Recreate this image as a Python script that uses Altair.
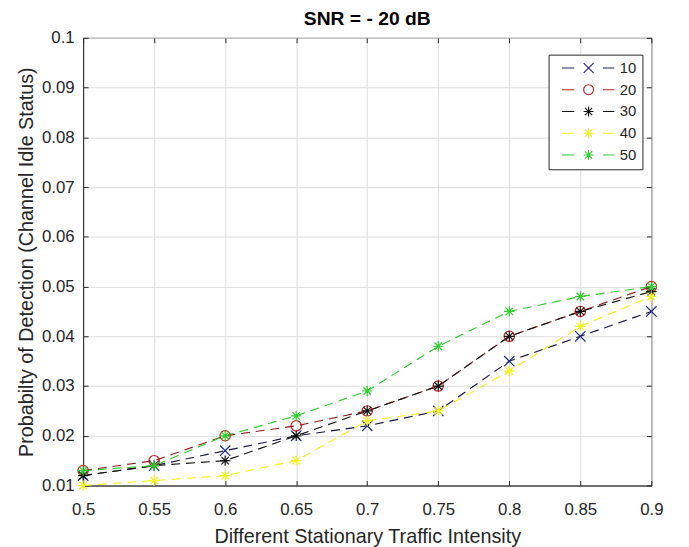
import altair as alt
import pandas as pd

# ---- data ----
traffic = [0.5, 0.55, 0.6, 0.65, 0.7, 0.75, 0.8, 0.85, 0.9]
series_names = ["10", "20", "30", "40", "50"]
s10 = [0.012, 0.014, 0.017, 0.020, 0.022, 0.025, 0.035, 0.040, 0.045]
s20 = [0.013, 0.015, 0.020, 0.022, 0.025, 0.030, 0.040, 0.045, 0.050]
s30 = [0.012, 0.014, 0.015, 0.020, 0.025, 0.030, 0.040, 0.045, 0.049]
s40 = [0.010, 0.011, 0.012, 0.015, 0.023, 0.025, 0.033, 0.042, 0.048]
s50 = [0.013, 0.014, 0.020, 0.024, 0.029, 0.038, 0.045, 0.048, 0.050]
x_ticks = [0.5, 0.55, 0.6, 0.65, 0.7, 0.75, 0.8, 0.85, 0.9]
y_ticks = [0.01, 0.02, 0.03, 0.04, 0.05, 0.06, 0.07, 0.08, 0.09, 0.1]

# ---- styles ----
line_colors = ["#14143c", "#8c1c1c", "#111111", "#f2f21e", "#2ecc2e"]
marker_colors = ["#1c2a80", "#c0221e", "#111111", "#f2f21e", "#2ecc2e"]
legend_colors = ["#1a2468", "#a81f1e", "#111111", "#f2f21e", "#2ecc2e"]
X_M = "M-1,-1L1,1M-1,1L1,-1"
O_M = "M1,0A1,1,0,1,1,-1,0A1,1,0,1,1,1,0"
A_M = "M-1,0L1,0M0,-1L0,1M-0.72,-0.72L0.72,0.72M-0.72,0.72L0.72,-0.72"
marker_paths = [X_M, O_M, A_M, A_M, A_M]
DASH = "M-5.4,0L-2.9,0M2.9,0L5.2,0"
legend_paths = [DASH + m for m in marker_paths]

all_series = [s10, s20, s30, s40, s50]
rows = []
for name, vals in zip(series_names, all_series):
    for xv, yv in zip(traffic, vals):
        rows.append({"x": xv, "y": yv, "series": name})
df = pd.DataFrame(rows)

FONT = "Liberation Sans"
TXT = "#262626"

x_scale = alt.Scale(domain=[0.5, 0.9], nice=False, zero=False)
y_scale = alt.Scale(domain=[0.01, 0.1], nice=False, zero=False)

base = alt.Chart(df)

lines = base.mark_line(strokeWidth=1.15, strokeDash=[9, 6]).encode(
    x=alt.X("x:Q", scale=x_scale,
            axis=alt.Axis(values=x_ticks, format=".2~f", title="Different Stationary Traffic Intensity",
                          orient="bottom", ticks=False, labelPadding=16, titlePadding=26,
                          titleBaseline="alphabetic", grid=True, labelFlush=False)),
    y=alt.Y("y:Q", scale=y_scale,
            axis=alt.Axis(values=y_ticks, format=".2~f", title="Probabilty of Detection (Channel Idle Status)",
                          orient="left", ticks=False, labelPadding=9, titlePadding=9,
                          titleBaseline="alphabetic", grid=True, labelFlush=False)),
    color=alt.Color("series:N", scale=alt.Scale(domain=series_names, range=line_colors), legend=None),
)

points = base.mark_point(filled=False, size=110, strokeWidth=1.2, opacity=1).encode(
    x=alt.X("x:Q", scale=x_scale, axis=None),
    y=alt.Y("y:Q", scale=y_scale, axis=None),
    color=alt.Color("series:N", scale=alt.Scale(domain=series_names, range=marker_colors), legend=None),
    shape=alt.Shape("series:N", scale=alt.Scale(domain=series_names, range=marker_paths), legend=None),
)

legend_layer = base.mark_point(filled=False, size=100, strokeWidth=1.1, opacity=1).encode(
    x=alt.X("x:Q", scale=x_scale, axis=None),
    y=alt.Y("y:Q", scale=y_scale, axis=None),
    color=alt.Color("series:N", scale=alt.Scale(domain=series_names, range=legend_colors),
                    legend=alt.Legend(orient="none", legendX=471, legendY=17, title=None)),
    shape=alt.Shape("series:N", scale=alt.Scale(domain=series_names, range=legend_paths),
                    legend=alt.Legend(orient="none", legendX=471, legendY=17, title=None)),
).transform_filter("false")


def tick_axis(orient, values):
    return alt.Axis(orient=orient, values=values, offset=-5, tickSize=5, ticks=True,
                    tickColor=TXT, labels=False, domain=False, grid=False, title=None)


ticks_bl = base.mark_point(opacity=0).encode(
    x=alt.X("x:Q", scale=x_scale, axis=tick_axis("bottom", x_ticks)),
    y=alt.Y("y:Q", scale=y_scale, axis=tick_axis("left", y_ticks)),
).transform_filter("false")

ticks_tr = base.mark_point(opacity=0).encode(
    x=alt.X("x:Q", scale=x_scale, axis=tick_axis("top", x_ticks)),
    y=alt.Y("y:Q", scale=y_scale, axis=tick_axis("right", y_ticks)),
).transform_filter("false")

chart = alt.layer(lines, points, legend_layer, ticks_bl, ticks_tr).resolve_scale(
    color="independent", shape="independent"
).resolve_axis(
    x="independent", y="independent"
).properties(
    width=575, height=453,
    autosize=alt.AutoSizeParams(type="none"),
    padding={"left": 76, "top": 27, "right": 30, "bottom": 59},
    title=alt.TitleParams("SNR = - 20 dB", font=FONT, fontSize=19.5, fontWeight="bold",
                          color="#000000", baseline="bottom", offset=-20, anchor="middle"),
    background="white",
).configure_view(
    stroke=TXT, strokeWidth=1
).configure_axis(
    domainColor=TXT, domainWidth=1, gridColor="#dcdcdc", gridWidth=1,
    labelFont=FONT, labelFontSize=17, labelColor=TXT,
    titleFont=FONT, titleFontSize=20, titleFontWeight="normal", titleColor=TXT,
).configure_legend(
    strokeColor=TXT, fillColor="white", padding=6, cornerRadius=0,
    labelFont=FONT, labelFontSize=15, labelColor=TXT,
    symbolStrokeWidth=1.1, symbolOffset=27, labelOffset=24, rowPadding=6,
)

chart.save("out.html", embed_options={"renderer": "svg", "actions": False})
